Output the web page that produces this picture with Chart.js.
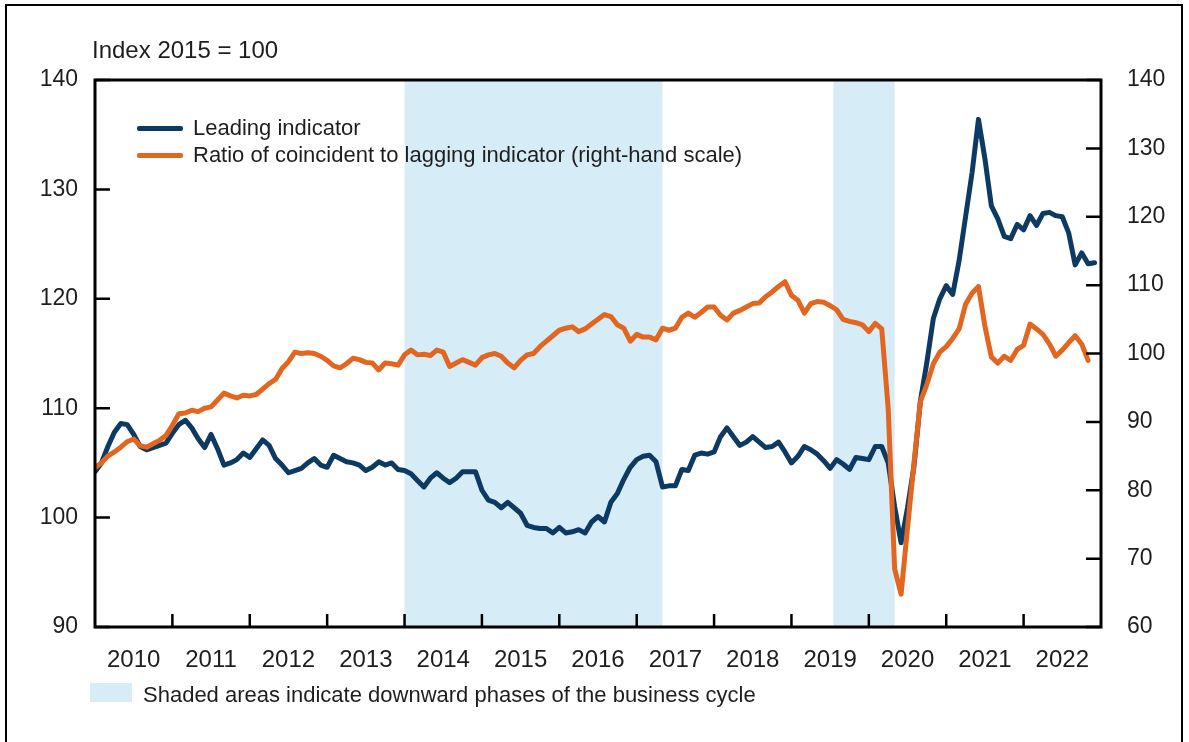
<!DOCTYPE html>
<html>
<head>
<meta charset="utf-8">
<script src="https://cdn.jsdelivr.net/npm/chart.js@4.4.1/dist/chart.umd.min.js"></script>
<style>
html,body{margin:0;padding:0;background:#fff;}
body{width:1189px;height:742px;position:relative;overflow:hidden;font-family:"Liberation Sans",Arial,sans-serif;color:#1e1e1e;}
#frame{position:absolute;left:5px;top:4px;width:1178px;height:800px;border:2px solid #000;box-sizing:border-box;}
#c{position:absolute;left:0;top:0;}
.t{position:absolute;white-space:nowrap;line-height:24px;}
.sw{position:absolute;height:5px;border-radius:2px;}
</style>
</head>
<body>
<div id="frame"></div>
<canvas id="c" width="1189" height="742"></canvas>
<div class="t" style="left:92px;top:36px;font-size:24px;line-height:27px;">Index 2015 = 100</div>
<div class="sw" style="left:137px;top:126px;width:46px;background:#0d3a63;"></div>
<div class="t" style="left:193px;top:116px;font-size:22px;">Leading indicator</div>
<div class="sw" style="left:137px;top:153px;width:46px;background:#e2661f;"></div>
<div class="t" style="left:193px;top:143px;font-size:22px;">Ratio of coincident to lagging indicator (right-hand scale)</div>
<div style="position:absolute;left:90px;top:683px;width:42px;height:19px;background:#d6ecf7;"></div>
<div class="t" style="left:143px;top:683px;font-size:22px;">Shaded areas indicate downward phases of the business cycle</div>
<script>
// ---- data ----
const years = ['2010','2011','2012','2013','2014','2015','2016','2017','2018','2019','2020','2021','2022'];
// monthly, Jan 2010 onwards (left-hand scale)
const leading = [
104.2,105.0,106.5,107.8,108.6,108.5,107.6,106.5,106.2,106.4,106.6,106.8,
107.7,108.5,108.9,108.2,107.2,106.4,107.6,106.3,104.8,105.0,105.3,105.9,
105.5,106.3,107.1,106.6,105.4,104.8,104.1,104.3,104.5,105.0,105.4,104.8,
104.6,105.7,105.4,105.1,105.0,104.8,104.3,104.6,105.1,104.8,105.0,104.4,
104.3,104.0,103.4,102.8,103.6,104.1,103.6,103.2,103.6,104.2,104.2,104.2,
102.5,101.6,101.4,100.9,101.4,100.9,100.4,99.3,99.1,99.0,99.0,98.6,
99.1,98.6,98.7,98.9,98.6,99.6,100.1,99.6,101.4,102.2,103.5,104.6,
105.3,105.6,105.7,105.1,102.8,102.9,102.9,104.4,104.3,105.7,105.9,105.8,
106.0,107.4,108.2,107.4,106.6,106.9,107.4,106.9,106.4,106.5,106.9,106.0,
105.0,105.6,106.5,106.2,105.8,105.2,104.5,105.3,104.9,104.4,105.5,105.4,
105.3,106.5,106.5,105.0,101.0,97.7,100.9,104.7,110.7,114.2,118.2,120.0,
121.2,120.4,123.5,127.5,131.5,136.4,132.8,128.5,127.3,125.7,125.5,126.8,
126.3,127.6,126.7,127.8,127.9,127.6,127.5,126.0,123.1,124.2,123.2,123.3
];
// monthly, Jan 2010 onwards (right-hand scale)
const ratio = [
83.3,84.0,85.0,85.6,86.3,87.1,87.5,86.5,86.3,86.8,87.3,88.0,
89.5,91.2,91.3,91.7,91.5,92.0,92.2,93.2,94.2,93.8,93.5,93.9,
93.8,94.0,94.8,95.6,96.2,97.8,98.8,100.2,100.0,100.1,100.0,99.6,
99.0,98.2,97.9,98.5,99.3,99.1,98.7,98.6,97.6,98.6,98.5,98.3,
99.8,100.5,99.8,99.9,99.7,100.5,100.2,98.1,98.6,99.1,98.7,98.3,
99.4,99.8,100.0,99.6,98.6,97.9,99.0,99.8,100.0,101.0,101.8,102.6,
103.4,103.7,103.9,103.2,103.6,104.3,105.0,105.7,105.4,104.2,103.7,101.8,
102.8,102.4,102.4,102.0,103.7,103.4,103.7,105.3,105.9,105.3,106.0,106.8,
106.8,105.6,104.9,105.9,106.3,106.8,107.3,107.4,108.3,109.0,109.8,110.5,
108.5,107.8,105.9,107.3,107.6,107.5,107.0,106.4,105.0,104.7,104.5,104.2,
103.2,104.4,103.6,92.0,68.5,64.8,74.5,84.0,93.0,95.5,98.5,100.2,
101.0,102.2,103.6,107.2,108.8,109.8,104.0,99.5,98.6,99.6,99.0,100.6,
101.2,104.3,103.6,102.8,101.4,99.6,100.5,101.6,102.6,101.4,99.0
];
// shaded downward phases (month index from Jan 2010)
const shadeStart = [48, 114.5];
const shadeEnd = [88, 124];

// ---- styling ----
const BLUE = '#0d3a63', ORANGE = '#e2661f', SHADE = '#d6ecf7', TXT = '#1e1e1e';
const FONT = "'Liberation Sans', Arial, sans-serif";
const toXY = arr => arr.map((v, i) => ({x: i, y: v}));
const boundaries = years.slice(1).map((_, i) => (i + 1) * 12);

const bandsPlugin = {
  id: 'bands',
  beforeDatasetsDraw(chart) {
    const {ctx, chartArea: a, scales: {x}} = chart;
    ctx.save();
    ctx.fillStyle = SHADE;
    for (let i = 0; i < shadeStart.length; i++) {
      const x0 = x.getPixelForValue(shadeStart[i]);
      const x1 = x.getPixelForValue(shadeEnd[i]);
      ctx.fillRect(x0, a.top, x1 - x0, a.bottom - a.top);
    }
    ctx.restore();
  }
};
const framePlugin = {
  id: 'frame',
  afterDatasetsDraw(chart) {
    const {ctx, chartArea: a, scales} = chart;
    ctx.save();
    ctx.strokeStyle = '#000';
    ctx.lineWidth = 2.5;
    ctx.beginPath();
    scales.y.ticks.forEach(t => { const p = scales.y.getPixelForValue(t.value); ctx.moveTo(a.left, p); ctx.lineTo(a.left + 15, p); });
    scales.y2.ticks.forEach(t => { const p = scales.y2.getPixelForValue(t.value); ctx.moveTo(a.right, p); ctx.lineTo(a.right - 15, p); });
    boundaries.forEach(v => { const p = scales.x.getPixelForValue(v); ctx.moveTo(p, a.bottom); ctx.lineTo(p, a.bottom - 13); });
    ctx.stroke();
    ctx.lineWidth = 3;
    ctx.strokeRect(a.left, a.top, a.right - a.left, a.bottom - a.top);
    ctx.restore();
  }
};

new Chart(document.getElementById('c'), {
  type: 'line',
  data: {
    datasets: [
      {label: 'Leading indicator', data: toXY(leading), yAxisID: 'y', borderColor: BLUE, borderWidth: 5, order: 2},
      {label: 'Ratio of coincident to lagging indicator (right-hand scale)', data: toXY(ratio), yAxisID: 'y2', borderColor: ORANGE, borderWidth: 5, order: 1}
    ]
  },
  options: {
    responsive: false,
    devicePixelRatio: 1,
    animation: false,
    layout: {padding: {top: 80, bottom: 70, left: 0, right: 0}},
    elements: {point: {radius: 0}, line: {tension: 0, borderJoinStyle: 'round', borderCapStyle: 'round'}},
    plugins: {legend: {display: false}, tooltip: {enabled: false}},
    scales: {
      x: {
        type: 'linear', min: 0, max: 156, position: 'bottom',
        grid: {display: false}, border: {display: false},
        afterBuildTicks: s => { s.ticks = years.map((_, i) => ({value: i * 12 + 6})); },
        afterFit: s => { s.height = 45; },
        ticks: {autoSkip: false, maxRotation: 0, padding: 11, color: TXT, font: {family: FONT, size: 24},
          callback: (v, i) => years[i]}
      },
      y: {
        position: 'left', min: 90, max: 140,
        grid: {display: false}, border: {display: false},
        afterFit: s => { s.width = 95; },
        ticks: {stepSize: 10, padding: 9, color: TXT, font: {family: FONT, size: 23}}
      },
      y2: {
        position: 'right', min: 60, max: 140,
        grid: {display: false}, border: {display: false},
        afterFit: s => { s.width = 88; },
        ticks: {stepSize: 10, padding: 18, color: TXT, font: {family: FONT, size: 23}}
      }
    }
  },
  plugins: [bandsPlugin, framePlugin]
});
</script>
</body>
</html>
